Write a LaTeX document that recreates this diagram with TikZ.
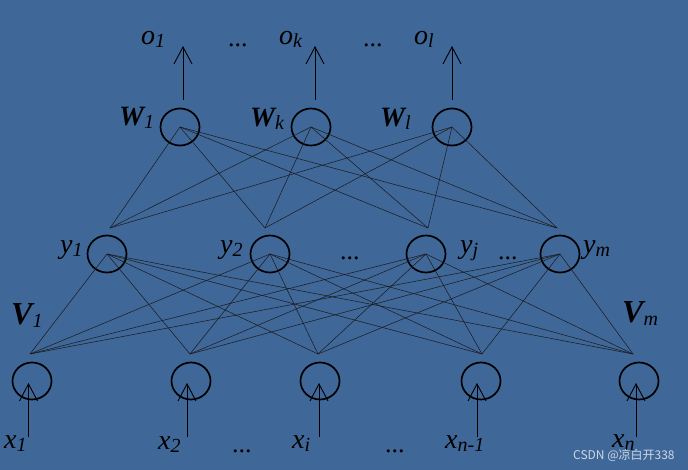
\documentclass[tikz,border=0pt]{standalone}
\usepackage{fontspec}
\setmainfont{Liberation Serif}
\newfontfamily\cjkfont{Noto Sans CJK SC}
\usetikzlibrary{arrows.meta,shapes.geometric}
\definecolor{bg}{RGB}{63,103,152}
\definecolor{wm}{RGB}{205,215,228}
\newcommand{\lb}[2]{{\itshape #1}\raisebox{-3pt}{\fontsize{20}{20}\selectfont\itshape #2}}
\newcommand{\blb}[2]{{\bfseries\itshape #1}\raisebox{-3pt}{\fontsize{20}{20}\selectfont\itshape #2}}
\begin{document}
\begin{tikzpicture}[x=1pt,y=-1pt,
  neuron/.style={draw=black,line width=1.7pt,ellipse,minimum width=39pt,minimum height=37pt,inner sep=0pt},
  wire/.style={line width=0.5pt,draw=black!90},
  arr/.style={line width=0.9pt,draw=black,-{Straight Barb[length=17pt,width=18pt]}},
  lab/.style={anchor=base west,inner sep=0pt,font=\fontsize{28}{30}\selectfont},
  wlab/.style={anchor=base west,inner sep=0pt,font=\fontsize{28}{30}\selectfont},
  vlab/.style={anchor=base west,inner sep=0pt,font=\fontsize{32}{34}\selectfont},
  dots/.style={anchor=base west,inner sep=0pt,font=\fontsize{26}{30}\selectfont},
  ]
\fill[bg] (0,0) rectangle (688,470);
\useasboundingbox (0,0) rectangle (688,470);

% neurons
\node[neuron] (w1) at (180,127) {};
\node[neuron] (wk) at (311,127) {};
\node[neuron] (wl) at (452,127) {};
\node[neuron] (y1) at (107,254) {};
\node[neuron] (y2) at (270,254) {};
\node[neuron] (yj) at (426,254) {};
\node[neuron] (ym) at (560,254) {};
\node[neuron] (x1) at (32,381) {};
\node[neuron] (x2) at (191,381) {};
\node[neuron] (xi) at (320,381) {};
\node[neuron] (xn1) at (481,381) {};
\node[neuron] (xn) at (639,381) {};

% convergence points
\coordinate (ty1) at (110,228);
\coordinate (ty2) at (265,228);
\coordinate (tyj) at (428,228);
\coordinate (tym) at (557,228);
\coordinate (tx1) at (30,354);
\coordinate (tx2) at (190,354);
\coordinate (txi) at (318,354);
\coordinate (txn1) at (482,354);
\coordinate (txn) at (633,354);

% wires
\foreach \w in {w1,wk,wl}
  \foreach \t in {ty1,ty2,tyj,tym}
    \draw[wire] (\w.center) -- (\t);
\foreach \y in {y1,y2,yj,ym}
  \foreach \t in {tx1,tx2,txi,txn1,txn}
    \draw[wire] (\y.center) -- (\t);

% output arrows
\coordinate (os1) at (183,100); \coordinate (oe1) at (183,46);
\coordinate (osk) at (315,100); \coordinate (oek) at (315,46);
\coordinate (osl) at (452,100); \coordinate (oel) at (452,46);
\draw[arr] (os1) -- (oe1);
\draw[arr] (osk) -- (oek);
\draw[arr] (osl) -- (oel);

% input arrows
\coordinate (is1) at (28.5,437); \coordinate (ie1) at (28.5,383);
\coordinate (is2) at (187,437); \coordinate (ie2) at (187,383);
\coordinate (isi) at (319,437); \coordinate (iei) at (319,383);
\coordinate (isn1) at (477,437); \coordinate (ien1) at (477,383);
\coordinate (isn) at (636,437); \coordinate (ien) at (636,383);
\draw[arr] (is1) -- (ie1);
\draw[arr] (is2) -- (ie2);
\draw[arr] (isi) -- (iei);
\draw[arr] (isn1) -- (ien1);
\draw[arr] (isn) -- (ien);

% labels
\node[lab] (lo1) at (141,45) {\lb{o}{1}};
\node[dots] (d1) at (228,47) {...};
\node[lab] (lok) at (279,45) {\lb{o}{k}};
\node[dots] (d2) at (363,47) {...};
\node[lab] (lol) at (414,45) {\lb{o}{l}};

\node[wlab] (lw1) at (119,126) {\blb{W}{1}};
\node[wlab] (lwk) at (250,127) {\blb{W}{k}};
\node[wlab] (lwl) at (380,127) {\blb{W}{l}};

\node[lab] (ly1) at (60,254) {\lb{y}{1}};
\node[lab] (ly2) at (220,254) {\lb{y}{2}};
\node[dots] (d3) at (340,260) {...};
\node[lab] (lyj) at (460,254) {\lb{y}{j}};
\node[dots] (d4) at (498,260) {...};
\node[lab] (lym) at (583,254) {\lb{y}{m}};

\node[vlab] (lv1) at (11,324) {\blb{V}{1}};
\node[vlab] (lvm) at (622,323) {\blb{V}{m}};

\node[lab] (lx1) at (4,448) {\lb{x}{1}};
\node[lab] (lx2) at (158,449) {\lb{x}{2}};
\node[dots] (d5) at (232,452) {...};
\node[lab] (lxi) at (292,448) {\lb{x}{i}};
\node[dots] (d6) at (385,452) {...};
\node[lab] (lxn1) at (445,448) {\lb{x}{n-1}};
\node[lab] (lxn) at (612,447) {\lb{x}{n}};

\node[anchor=west,inner sep=0pt,text=wm,font=\cjkfont\fontsize{12}{12}\selectfont] (wmk) at (573,455) {CSDN @凉白开338};
\end{tikzpicture}
\end{document}
